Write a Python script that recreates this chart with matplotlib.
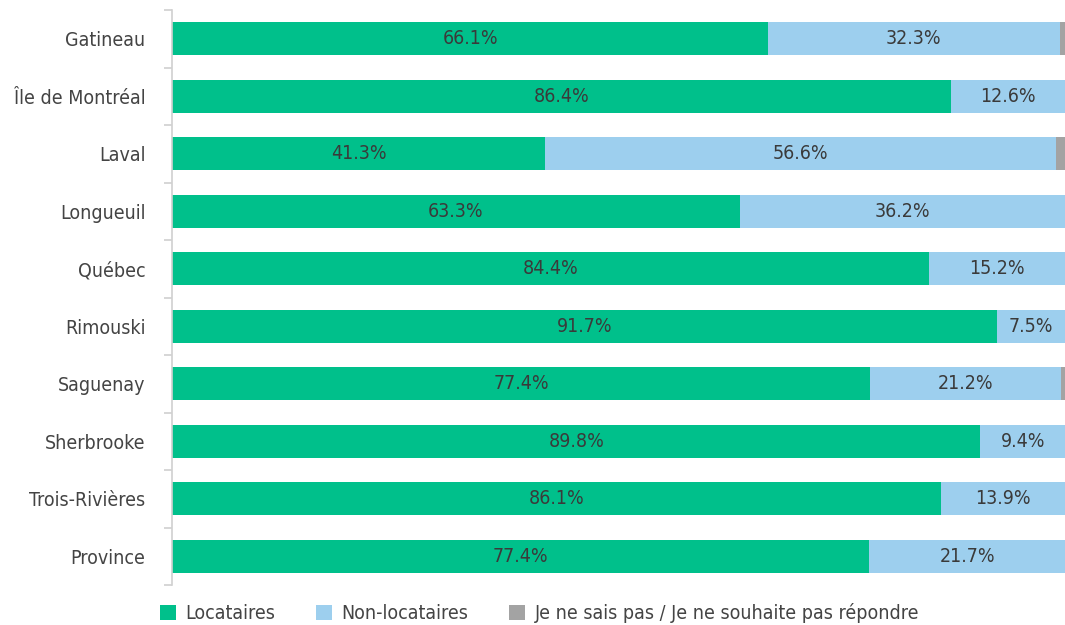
import numpy as np
from matplotlib import pyplot as plt

villes = ['Gatineau', 'Île de Montréal', 'Laval', 'Longueuil', 'Québec',
          'Rimouski', 'Saguenay', 'Sherbrooke', 'Trois-Rivières', 'Province']
locataires = [66.1, 86.4, 41.3, 63.3, 84.4, 91.7, 77.4, 89.8, 86.1, 77.4]
non_locataires = [32.3, 12.6, 56.6, 36.2, 15.2, 7.5, 21.2, 9.4, 13.9, 21.7]
ne_sais_pas = [0.6, 0.0, 1.0, 0.0, 0.0, 0.0, 0.4, 0.0, 0.0, 0.0]

series = [('Locataires', locataires, '#00c08b'),
          ('Non-locataires', non_locataires, '#9dcfee'),
          ('Je ne sais pas / Je ne souhaite pas répondre', ne_sais_pas, '#a3a3a3')]

plt.rcParams['font.family'] = ['DejaVu Sans']
plt.rcParams['font.stretch'] = 'condensed'
txt = '#444444'

fig = plt.figure(figsize=(10.65, 6.25), dpi=100)
ax = fig.add_axes([0.1615, 0.064, 0.8385, 0.92])

total = np.array(locataires) + np.array(non_locataires) + np.array(ne_sais_pas)
y = np.arange(len(villes))
left = np.zeros(len(villes))
for name, vals, color in series:
    w = np.array(vals) / total * 100
    bars = ax.barh(y, w, left=left, height=0.58, color=color, label=name)
    if name != series[2][0]:
        ax.bar_label(bars, labels=[f'{v:.1f}%' for v in vals], label_type='center',
                     color='#3a3a3a', fontsize=14)
    left += w

ax.set_xlim(0, 100)
ax.set_ylim(len(villes) - 0.5, -0.5)
ax.set_yticks(y)
ax.set_yticklabels(villes, fontsize=14, color=txt)
ax.tick_params(axis='y', which='major', length=0, pad=19)
ax.set_yticks(np.arange(-0.5, len(villes)), minor=True)
ax.tick_params(axis='y', which='minor', length=6, color='#d0d0d0', width=1.2)
ax.set_xticks([])
for s in ['top', 'right', 'bottom']:
    ax.spines[s].set_visible(False)
ax.spines['left'].set_color('#d0d0d0')
ax.spines['left'].set_linewidth(1.2)

leg = fig.legend(loc='lower left', bbox_to_anchor=(0.134, -0.025), ncol=3, frameon=False,
                 fontsize=14, handlelength=0.8, handleheight=0.8, handletextpad=0.5,
                 columnspacing=2.1)
for t in leg.get_texts():
    t.set_color(txt)

fig.savefig('out.png', dpi=100)
